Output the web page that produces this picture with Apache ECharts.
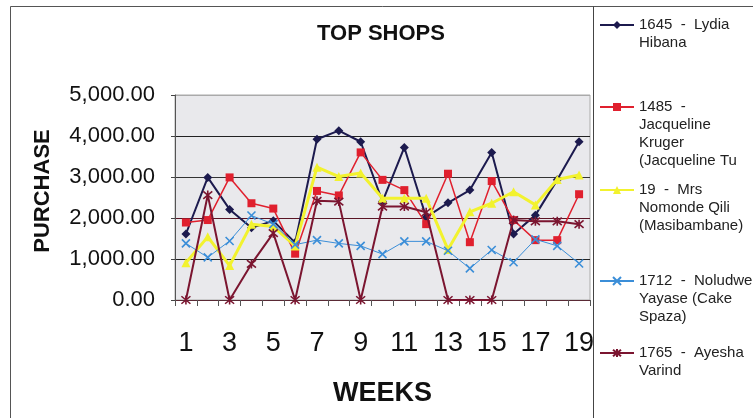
<!DOCTYPE html>
<html>
<head>
<meta charset="utf-8">
<script src="https://cdn.jsdelivr.net/npm/echarts@6/dist/echarts.min.js"></script>
<style>html,body{margin:0;padding:0;background:#fff;}#c{width:753px;height:418px;}</style>
</head>
<body>
<div id="c"></div>
<script>
// ---- data ----
var weeks = ['1','2','3','4','5','6','7','8','9','10','11','12','13','14','15','16','17','18','19'];
var yTicks = [0, 1000, 2000, 3000, 4000, 5000];
var seriesNames = [
  '1645 - Lydia Hibana',
  '1485 - Jacqueline Kruger (Jacqueline Tu',
  '19 - Mrs Nomonde Qili (Masibambane)',
  '1712 - Noludwe Yayase (Cake Spaza)',
  '1765 - Ayesha Varind'
];
var legendLines = [
  ['1645  -  Lydia', 'Hibana'],
  ['1485  -', 'Jacqueline', 'Kruger', '(Jacqueline Tu'],
  ['19  -  Mrs', 'Nomonde Qili', '(Masibambane)'],
  ['1712  -  Noludwe', 'Yayase (Cake', 'Spaza)'],
  ['1765  -  Ayesha', 'Varind']
];
var lydia  = [1610, 2990, 2210, 1760, 1930, 1400, 3920, 4130, 3860, 2400, 3720, 2020, 2370, 2680, 3600, 1610, 2070, 2930, 3860];
var jacq   = [1890, 1950, 2990, 2360, 2230, 1130, 2660, 2550, 3600, 2930, 2680, 1850, 3080, 1410, 2900, 1950, 1460, 1460, 2580];
var nomo   = [910, 1540, 840, 1850, 1790, 1320, 3240, 3010, 3100, 2480, 2480, 2480, 1230, 2150, 2360, 2640, 2320, 2940, 3050];
var nolu   = [1380, 1040, 1440, 2060, 1850, 1350, 1460, 1380, 1320, 1120, 1430, 1430, 1200, 770, 1220, 920, 1480, 1320, 890];
var ayesha = [0, 2560, 0, 880, 1630, 0, 2420, 2400, 0, 2280, 2280, 2140, 0, 0, 0, 1950, 1920, 1920, 1850];

// ---- styling ----
var FONT = '"Liberation Sans", Arial, Helvetica, sans-serif';
var colors = ['#1c1a4e', '#e0202e', '#f2f22e', '#3b8ed8', '#7b1530'];
var symbols = [
  'diamond',
  'rect',
  'triangle',
  'path://M0,0L10,10M10,0L0,10',
  'path://M0,0L10,10M10,0L0,10M5,-1L5,11'
];
var symbolSizes = [9, 8, 9, 8, 9];
var lineWidths = [2, 1.5, 3, 1, 2];
var values = [lydia, jacq, nomo, nolu, ayesha];
var legendCenters = [25, 107, 190, 281, 353];
var LH = 18;

function fmt(v) {
  return v.toLocaleString('en-US', {minimumFractionDigits: 2, maximumFractionDigits: 2});
}

var series = seriesNames.map(function (n, i) {
  return {
    name: n,
    type: 'line',
    data: values[i],
    symbol: symbols[i],
    symbolSize: symbolSizes[i],
    showAllSymbol: true,
    animation: false,
    lineStyle: {color: colors[i], width: lineWidths[i]},
    itemStyle: {color: colors[i], borderColor: colors[i], borderWidth: (i >= 3 ? 1.6 : 0)},
    z: 2 + i
  };
});

var legends = seriesNames.map(function (n, i) {
  var lines = legendLines[i];
  var pad = [];
  for (var k = 1; k < lines.length; k++) pad.push(' ');
  var text = pad.concat(lines).join('\n');
  return {
    data: [n],
    left: 599,
    top: legendCenters[i] - (2 * lines.length - 1) * LH / 2,
    orient: 'vertical',
    padding: 0,
    itemWidth: 34,
    itemHeight: 10,
    itemGap: 0,
    selectedMode: false,
    formatter: function () { return text; },
    textStyle: {fontFamily: FONT, fontSize: 15, color: '#222', lineHeight: LH}
  };
});

var chart = echarts.init(document.getElementById('c'), null, {renderer: 'canvas'});
chart.setOption({
  animation: false,
  backgroundColor: '#fff',
  title: {
    text: 'TOP SHOPS',
    left: 317, top: 23, padding: 0,
    textStyle: {fontFamily: FONT, fontSize: 22, fontWeight: 'bold', color: '#111'}
  },
  legend: legends,
  graphic: [
    {type: 'rect', shape: {x: 10.5, y: 6.5, width: 900, height: 600}, style: {fill: 'none', stroke: '#555', lineWidth: 1}, silent: true, z: 0},
    {type: 'line', shape: {x1: 593.5, y1: 6.5, x2: 593.5, y2: 418}, style: {stroke: '#444', lineWidth: 1}, silent: true, z: 0}
  ],
  grid: {
    left: 175, right: 163, top: 95, bottom: 118,
    show: true, backgroundColor: '#e9e9ec', borderColor: '#aaa', borderWidth: 1
  },
  xAxis: {
    type: 'category',
    data: weeks,
    boundaryGap: true,
    name: 'WEEKS',
    nameLocation: 'middle',
    nameGap: 80,
    nameTextStyle: {fontFamily: FONT, fontSize: 27, fontWeight: 'bold', color: '#111'},
    axisLine: {show: true, lineStyle: {color: '#5a2a35', width: 1}},
    axisTick: {show: true, interval: 0, length: 6, lineStyle: {color: '#555'}},
    axisLabel: {interval: 1, margin: 30, fontFamily: FONT, fontSize: 27, color: '#111'},
    splitLine: {show: false}
  },
  yAxis: {
    type: 'value',
    min: yTicks[0],
    max: yTicks[yTicks.length - 1],
    interval: yTicks[1] - yTicks[0],
    name: 'PURCHASE',
    nameLocation: 'middle',
    nameGap: 121,
    nameTextStyle: {fontFamily: FONT, fontSize: 22, fontWeight: 'bold', color: '#111', padding: [0, 0, 0, 13]},
    axisLine: {show: true, lineStyle: {color: '#555', width: 1}},
    axisTick: {show: true, length: 4, lineStyle: {color: '#444'}},
    axisLabel: {margin: 20, fontFamily: FONT, fontSize: 22, color: '#111', formatter: fmt},
    splitLine: {show: true, lineStyle: {color: ['#333', '#222', '#5a1424', '#333', '#222', '#aaa'], width: 1}}
  },
  series: series
});
</script>
</body>
</html>
